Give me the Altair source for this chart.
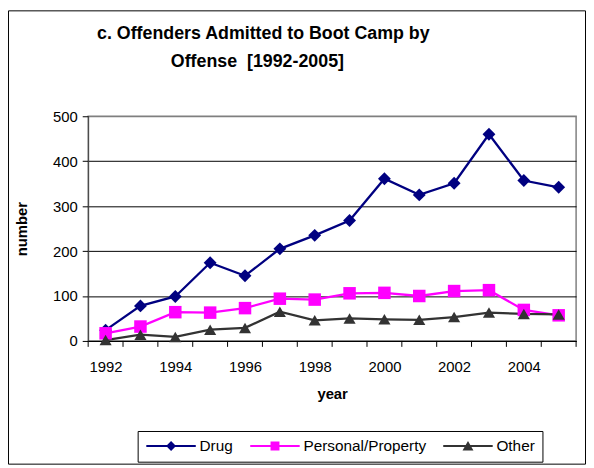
import altair as alt
import pandas as pd

# ---------------- data ----------------
years = list(range(1992, 2006))
drug = [24, 78, 99, 174, 145, 205, 235, 268, 361, 325, 351, 460, 357, 342]
personal = [17, 32, 64, 63, 73, 94, 92, 106, 107, 100, 111, 113, 69, 57]
other = [2, 14, 9, 25, 29, 65, 46, 50, 48, 47, 53, 63, 60, 59]

series_names = ["Drug", "Personal/Property", "Other"]
series_colors = ["#000080", "#FF00FF", "#333333"]
marker_shapes = ["diamond", "square", "triangle-up"]
marker_sizes = [169, 150, 196]

title_lines = ["c. Offenders Admitted to Boot Camp by", "Offense\u00a0 [1992-2005]"]
x_label_years = [1992, 1994, 1996, 1998, 2000, 2002, 2004]
y_ticks = [0, 100, 200, 300, 400, 500]

# ---------------- layout ----------------
W, H = 493, 227
FONT = "Liberation Sans"

rows = []
for name, vals in zip(series_names, [drug, personal, other]):
    for yr, v in zip(years, vals):
        rows.append({"year": yr, "value": v, "series": name})
df = pd.DataFrame(rows)

bounds = [yr - 0.5 for yr in years] + [years[-1] + 0.5]
df_ticks = pd.DataFrame({"b": bounds})

x_scale = alt.Scale(domain=[years[0] - 0.5, years[-1] + 0.5], nice=False, zero=False)
y_scale = alt.Scale(domain=[0, 500], nice=False)

x_axis = alt.Axis(values=x_label_years, format="d", tickSize=0, labelFontSize=15,
                  labelColor="black", labelPadding=19, labelFont=FONT,
                  domainColor="black", domainWidth=1, grid=False,
                  title="year", titleFontSize=15, titleFontWeight="bold",
                  titleColor="black", titleFont=FONT, titlePadding=12)
y_axis = alt.Axis(values=y_ticks, tickSize=6, tickColor="black", labelFontSize=15,
                  labelColor="black", labelPadding=5, labelFont=FONT,
                  domainColor="#404040", domainWidth=1, grid=True,
                  gridColor={"condition": {"test": "datum.value === 500", "value": "#808080"},
                             "value": "#000000"},
                  gridWidth=1,
                  title="number", titleFontSize=15, titleFontWeight="bold",
                  titleColor="black", titleFont=FONT, titlePadding=23)

X = alt.X("year:Q", scale=x_scale, axis=x_axis)
Y = alt.Y("value:Q", scale=y_scale, axis=y_axis)

color_scale = alt.Scale(domain=series_names, range=series_colors)

base = alt.Chart(df)

lines = base.mark_line(strokeWidth=2.3).encode(
    x=X, y=Y,
    color=alt.Color("series:N", scale=color_scale, legend=None),
    detail="series:N",
)

points = base.mark_point(filled=True, opacity=1).encode(
    x=X, y=Y,
    color=alt.Color("series:N", scale=color_scale, legend=None),
    shape=alt.Shape("series:N", scale=alt.Scale(domain=series_names, range=marker_shapes), legend=None),
    size=alt.Size("series:N", scale=alt.Scale(domain=series_names, range=marker_sizes), legend=None),
)

# legend symbols (unit = 6px): a line segment with the marker on it
line_part = "M-1,-0.17L7.33,-0.17L7.33,0.17L-1,0.17Z"
legend_paths = [
    line_part + " M3.17,-0.83L4,0L3.17,0.83L2.34,0Z",
    line_part + " M2.42,-0.75L3.92,-0.75L3.92,0.75L2.42,0.75Z",
    line_part + " M3.17,-0.83L4.09,0.75L2.25,0.75Z",
]

legend_layer = base.transform_filter("false").mark_point(filled=True, opacity=1, size=144).encode(
    x=X, y=Y,
    color=alt.Color("series:N", scale=color_scale,
                    legend=alt.Legend(title=None, orient="none", legendX=50, legendY=318,
                                      direction="horizontal", strokeColor="black",
                                      fillColor="white", padding=7, labelFontSize=15.5,
                                      labelFont=FONT, labelColor="black", labelOffset=40,
                                      columnPadding=15, symbolSize=144,
                                      symbolStrokeWidth=0, symbolOpacity=1)),
    shape=alt.Shape("series:N", scale=alt.Scale(domain=series_names, range=legend_paths)),
)

ticks = alt.Chart(df_ticks).mark_rule(color="black", strokeWidth=1).encode(
    x=alt.X("b:Q", scale=x_scale, axis=x_axis),
    y=alt.value(H),
    y2=alt.value(H + 6),
)

one = alt.Data(values=[{}])
border = alt.Chart(one).mark_rect(fill=None, stroke="black", strokeWidth=1).encode(
    x=alt.value(-80.5), x2=alt.value(502.5), y=alt.value(-106.5), y2=alt.value(351.5)
)
title1 = alt.Chart(one).mark_text(font=FONT, fontSize=18, fontWeight="bold", color="black",
                                  align="center", baseline="alphabetic").encode(
    x=alt.value(177), y=alt.value(-78), text=alt.value(title_lines[0]))
title2 = alt.Chart(one).mark_text(font=FONT, fontSize=18, fontWeight="bold", color="black",
                                  align="center", baseline="alphabetic").encode(
    x=alt.value(171), y=alt.value(-50), text=alt.value(title_lines[1]))

chart = alt.layer(border, title1, title2, ticks, lines, points, legend_layer).properties(
    width=W, height=H,
    autosize=alt.AutoSizeParams(type="none"),
    padding={"left": 81, "top": 107, "right": 10, "bottom": 126},
).resolve_scale(
    color="independent", shape="independent", size="independent"
).configure(font=FONT).configure_view(stroke="#808080", strokeWidth=1.5)

chart.save("out.html", embed_options={"renderer": "svg", "actions": False})
